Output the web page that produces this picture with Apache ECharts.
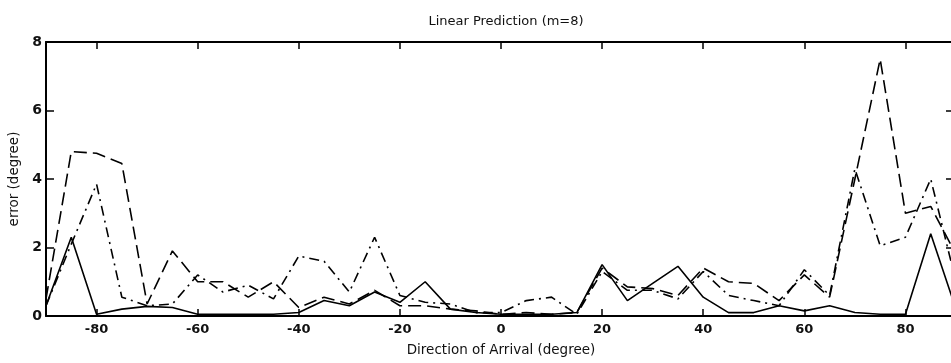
<!DOCTYPE html>
<html>
<head>
<meta charset="utf-8">
<script src="https://cdn.jsdelivr.net/npm/echarts@6/dist/echarts.min.js"></script>
<style>html,body{margin:0;padding:0;background:#fff;}#c{width:951px;height:363px;}</style>
</head>
<body>
<div id="c"></div>
<script>
// Direction of arrival (degree)
const angles = [-90,-85,-80,-75,-70,-65,-60,-55,-50,-45,-40,-35,-30,-25,-20,-15,-10,-5,0,5,10,15,20,25,30,35,40,45,50,55,60,65,70,75,80,85,90];
// error (degree), solid line
const solidErr = [0.3,2.3,0.05,0.2,0.28,0.25,0.05,0.05,0.05,0.05,0.1,0.45,0.3,0.7,0.4,1.0,0.2,0.1,0.05,0.05,0.05,0.1,1.5,0.45,0.95,1.45,0.55,0.1,0.1,0.3,0.15,0.3,0.1,0.05,0.05,2.4,0.2];
// error (degree), dashed line
const dashedErr = [0.5,4.8,4.75,4.45,0.35,1.9,1.0,1.0,0.55,1.0,0.25,0.55,0.35,0.75,0.3,0.3,0.2,0.15,0.05,0.1,0.05,0.1,1.4,0.85,0.8,0.6,1.4,1.0,0.95,0.45,1.2,0.55,4.0,7.5,3.0,3.2,1.8];
// error (degree), dash-dot line
const dashDotErr = [0.3,2.1,3.85,0.55,0.3,0.35,1.2,0.7,0.9,0.5,1.75,1.6,0.7,2.3,0.6,0.4,0.35,0.1,0.1,0.45,0.55,0.05,1.3,0.75,0.75,0.5,1.3,0.6,0.45,0.3,1.35,0.6,4.3,2.05,2.3,4.0,1.0];
const xTicks = [-80,-60,-40,-20,0,20,40,60,80];
const yTicks = [0,2,4,6,8];

const pairs = arr => angles.map((a,i)=>[a,arr[i]]);
const font = '"DejaVu Sans", "Liberation Sans", Arial, sans-serif';
const chart = echarts.init(document.getElementById('c'));
const lineBase = {type:'line', showSymbol:false, symbol:'none', clip:true, animation:false};
chart.setOption({
  animation:false,
  backgroundColor:'#fff',
  title:{text:'Linear Prediction (m=8)', left:501, top:10, textAlign:'center',
    textStyle:{fontFamily:font, fontSize:13, fontWeight:'normal', color:'#111'}},
  grid:{left:46, top:42, width:910, height:274, containLabel:false, outerBoundsMode:'none'},
  xAxis:[{
    type:'value', min:-90, max:90, position:'bottom',
    name:'Direction of Arrival (degree)', nameLocation:'middle', nameGap:27,
    nameTextStyle:{fontFamily:font, fontSize:13.5, color:'#111'},
    axisLine:{show:true, onZero:false, lineStyle:{color:'#000', width:2}},
    axisTick:{show:true, inside:true, length:7, customValues:xTicks, lineStyle:{color:'#000', width:1.5}},
    axisLabel:{show:true, customValues:xTicks, margin:7, fontFamily:font, fontSize:13, fontWeight:'bold', color:'#111'},
    splitLine:{show:false}
  },{
    type:'value', min:-90, max:90, position:'top',
    axisLine:{show:true, onZero:false, lineStyle:{color:'#000', width:2}},
    axisTick:{show:true, inside:true, length:7, customValues:xTicks, lineStyle:{color:'#000', width:1.5}},
    axisLabel:{show:false}, splitLine:{show:false}
  }],
  yAxis:[{
    type:'value', min:0, max:8, interval:2, position:'left',
    name:'error (degree)', nameLocation:'middle', nameGap:20, nameRotate:90,
    nameTextStyle:{fontFamily:font, fontSize:13.5, color:'#111'},
    axisLine:{show:true, onZero:false, lineStyle:{color:'#000', width:2}},
    axisTick:{show:true, inside:true, length:8, customValues:yTicks, lineStyle:{color:'#000', width:1.5}},
    axisLabel:{show:true, customValues:yTicks, margin:4, fontFamily:font, fontSize:14, fontWeight:'bold', color:'#111'},
    splitLine:{show:false}
  },{
    type:'value', min:0, max:8, interval:2, position:'right',
    axisLine:{show:true, onZero:false, lineStyle:{color:'#000', width:2}},
    axisTick:{show:true, inside:true, length:10, customValues:yTicks, lineStyle:{color:'#000', width:1.5}},
    axisLabel:{show:false}, splitLine:{show:false}
  }],
  series:[
    Object.assign({}, lineBase, {name:'solid', data:pairs(solidErr),
      lineStyle:{color:'#000', width:1.6, type:'solid'}}),
    Object.assign({}, lineBase, {name:'dashed', data:pairs(dashedErr),
      lineStyle:{color:'#000', width:1.6, type:[13,6]}}),
    Object.assign({}, lineBase, {name:'dashdot', data:pairs(dashDotErr),
      lineStyle:{color:'#000', width:1.6, type:[10,5,2,5]}})
  ]
});
</script>
</body>
</html>
